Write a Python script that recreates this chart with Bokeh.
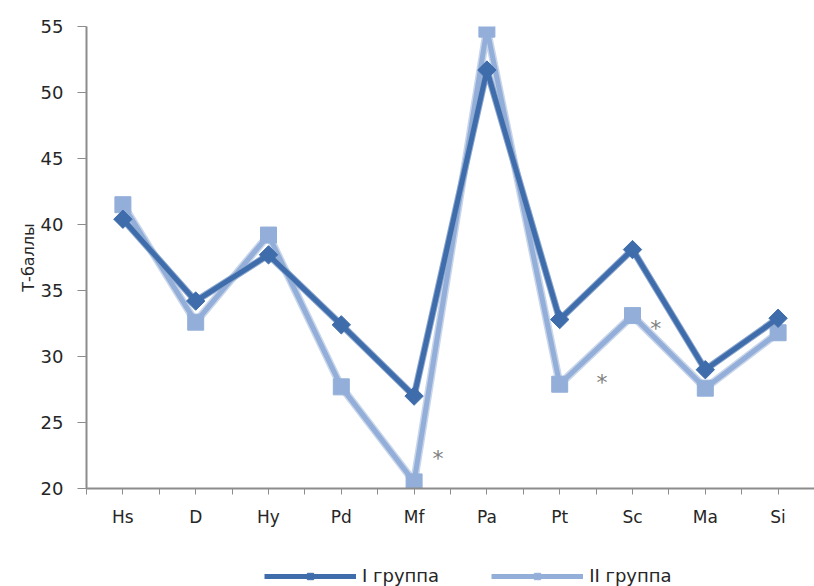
import math
from bokeh.plotting import figure
from bokeh.layouts import column
from bokeh.models import FixedTicker, Legend, LegendItem, Range1d, ColumnDataSource
from bokeh.core.properties import value
from bokeh.embed import file_html
from bokeh.resources import INLINE

categories = ["Hs", "D", "Hy", "Pd", "Mf", "Pa", "Pt", "Sc", "Ma", "Si"]
group1 = [40.4, 34.2, 37.7, 32.4, 27.0, 51.7, 32.8, 38.1, 29.0, 32.9]
group2 = [41.5, 32.6, 39.2, 27.7, 20.5, 54.8, 27.9, 33.1, 27.6, 31.8]
series_names = ["I группа", "II группа"]
star_cats = ["Mf", "Pt", "Sc"]
star_values = [22.7, 28.5, 32.6]
star_offsets = [0.33, 0.58, 0.32]
y_ticks = [20, 25, 30, 35, 40, 45, 50, 55]

FONT = "DejaVu Sans"
TXT = "#262626"
DARK = "#3F6DAB"
DARK_EDGE = "#8FA9CF"
LIGHT = "#93AFD9"
LIGHT_EDGE = "#C9D6EA"

xs = [i + 0.5 for i in range(len(categories))]

p = figure(frame_width=728, frame_height=462, output_backend="svg", toolbar_location=None,
           x_range=Range1d(0, len(categories)), y_range=Range1d(20, 55),
           min_border_left=86, min_border_right=0, min_border_top=26, min_border_bottom=58)
p.outline_line_color = None
p.xgrid.grid_line_color = None
p.ygrid.grid_line_color = None
p.background_fill_color = "white"
p.border_fill_color = "white"

# x axis
p.xaxis.ticker = FixedTicker(ticks=xs, minor_ticks=list(range(len(categories) + 1)))
p.xaxis.major_label_overrides = {x: c for x, c in zip(xs, categories)}
p.xaxis.axis_line_color = "#8C8C8C"
p.xaxis.axis_line_width = 2
p.xaxis.major_tick_line_color = "#8C8C8C"
p.xaxis.minor_tick_line_color = "#8C8C8C"
p.xaxis.major_tick_in = 0
p.xaxis.major_tick_out = 6
p.xaxis.minor_tick_in = 0
p.xaxis.minor_tick_out = 6
p.xaxis.major_label_standoff = 12
p.xaxis.major_label_text_font = FONT
p.xaxis.major_label_text_font_size = "17px"
p.xaxis.major_label_text_color = TXT

# y axis
p.yaxis.ticker = FixedTicker(ticks=y_ticks)
p.yaxis.axis_line_color = "#8C8C8C"
p.yaxis.axis_line_width = 2
p.yaxis.major_tick_line_color = "#8C8C8C"
p.yaxis.major_tick_in = 0
p.yaxis.major_tick_out = 9
p.yaxis.minor_tick_line_color = None
p.yaxis.major_label_standoff = 14
p.yaxis.major_label_text_font = FONT
p.yaxis.major_label_text_font_size = "18px"
p.yaxis.major_label_text_color = TXT
p.yaxis.axis_label = "Т-баллы"
p.yaxis.axis_label_text_font = FONT
p.yaxis.axis_label_text_font_size = "16px"
p.yaxis.axis_label_text_font_style = "normal"
p.yaxis.axis_label_text_color = TXT
p.yaxis.axis_label_standoff = 0

src2 = ColumnDataSource(dict(x=xs, y=group2))
src1 = ColumnDataSource(dict(x=xs, y=group1))

# light series (behind)
p.line("x", "y", source=src2, line_color=LIGHT_EDGE, line_width=8)
p.line("x", "y", source=src2, line_color=LIGHT, line_width=5)
p.scatter("x", "y", source=src2, marker="square", size=16,
          fill_color=LIGHT, line_color=LIGHT)

# dark series (front)
p.line("x", "y", source=src1, line_color=DARK_EDGE, line_width=7)
p.line("x", "y", source=src1, line_color=DARK, line_width=5)
p.scatter("x", "y", source=src1, marker="square", angle=math.pi / 4, size=13,
          fill_color=DARK, line_color=DARK)

# significance asterisks
sx = [categories.index(c) + 0.5 + o for c, o in zip(star_cats, star_offsets)]
p.text(x=sx, y=star_values, text=["*"] * len(sx), text_align="center",
       text_baseline="middle", text_font=value(FONT), text_font_size="22px",
       text_color="#808080", y_offset=6)

# legend strip below the chart (legend samples only; dummy point kept off-range)
lg = figure(width=814, height=40, output_backend="svg", toolbar_location=None,
            x_range=Range1d(0, 1), y_range=Range1d(0, 1),
            min_border=0, min_border_left=0, min_border_right=0,
            min_border_top=0, min_border_bottom=0)
lg.axis.visible = False
lg.grid.visible = False
lg.outline_line_color = None
dummy = ColumnDataSource(dict(x=[-5, -6], y=[-5, -6]))
a1 = lg.line("x", "y", source=dummy, line_color=DARK, line_width=5)
b1 = lg.scatter("x", "y", source=dummy, marker="square", angle=math.pi / 4, size=10,
                fill_color=DARK, line_color=DARK)
a2 = lg.line("x", "y", source=dummy, line_color=LIGHT, line_width=5)
b2 = lg.scatter("x", "y", source=dummy, marker="square", size=14,
                fill_color=LIGHT, line_color=LIGHT)
legend = Legend(items=[LegendItem(label=series_names[0], renderers=[a1, b1]),
                       LegendItem(label=series_names[1], renderers=[a2, b2])],
                orientation="horizontal", location=(178, 0),
                label_text_font=FONT, label_text_font_size="18px",
                label_text_color=TXT, glyph_width=92, glyph_height=16,
                spacing=52, label_standoff=6, border_line_color=None,
                background_fill_alpha=0, margin=0, padding=2)
lg.add_layout(legend, "center")

layout = column(p, lg, spacing=0)
open("out.html", "w").write(file_html(layout, INLINE))
